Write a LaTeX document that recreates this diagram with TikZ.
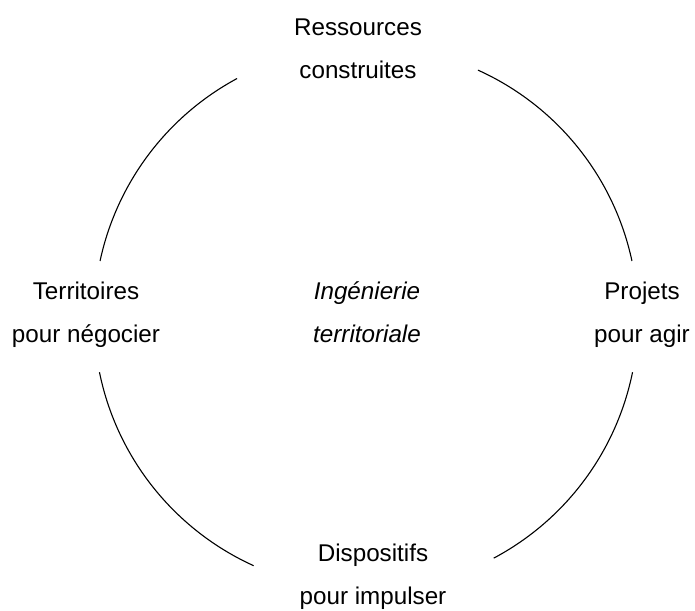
\documentclass[tikz,border=0pt]{standalone}
\usepackage{fontspec}
\setmainfont{Liberation Sans}
\begin{document}
\begin{tikzpicture}[x=1bp,y=1bp,
  lbl/.style={align=center,font=\fontsize{24.3}{43.2}\selectfont,inner sep=0pt,anchor=base},
  ctr/.style={lbl,font=\fontsize{24.3}{43.2}\selectfont\itshape},
  ring/.style={line width=1.1bp,black}]
\useasboundingbox (0,0) rectangle (695,611);
\coordinate (c) at (366,293);
\node[lbl] (top) at (358,532) {Ressources\\construites};
\node[lbl] (left) at (86,268) {Territoires\\pour négocier};
\node[ctr] (mid) at (367,268) {Ingénierie\\territoriale};
\node[lbl] (right) at (642,268) {Projets\\pour agir};
\node[lbl] (bottom) at (373,6) {Dispositifs\\pour impulser};
\draw[ring] (c) ++(118.3:272bp) arc[start angle=118.3,end angle=167.9,radius=272bp];
\draw[ring] (c) ++(65.7:272bp) arc[start angle=65.7,end angle=12.1,radius=272bp];
\draw[ring] (c) ++(-11.5:272bp) arc[start angle=-11.5,end angle=-62,radius=272bp];
\draw[ring] (c) ++(191.5:272bp) arc[start angle=191.5,end angle=245.6,radius=272bp];
\end{tikzpicture}
\end{document}
